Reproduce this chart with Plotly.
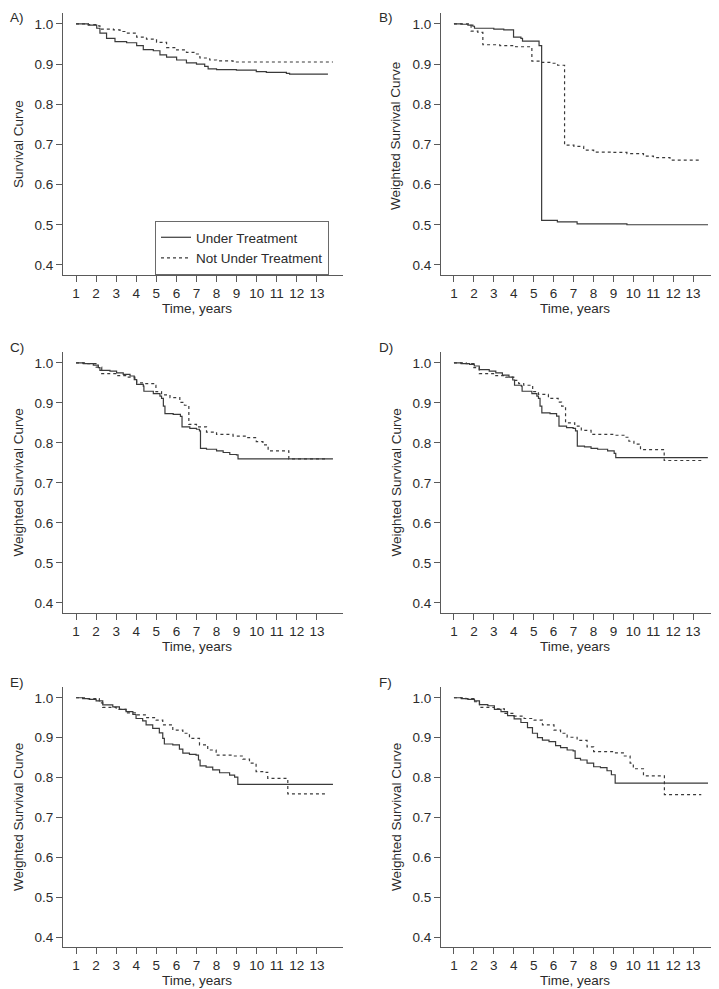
import plotly.graph_objects as go

# ---- data ----
years = list(range(1, 14))
surv_ticks = [0.4, 0.5, 0.6, 0.7, 0.8, 0.9, 1.0]
series_names = ["Under Treatment", "Not Under Treatment"]
panel_labels = ["A)", "B)", "C)", "D)", "E)", "F)"]
y_titles = ["Survival Curve"] + ["Weighted Survival Curve"] * 5

# A) unweighted
a_t_treat = [1.0, 1.61, 2.03, 2.19, 2.52, 2.94, 3.52, 4.02, 4.35, 4.85, 5.18, 5.51, 6.01, 6.50,
             7.00, 7.41, 7.58, 8.00, 8.99, 9.98, 10.48, 11.48, 11.64, 13.55]
a_s_treat = [1.0, 0.997, 0.989, 0.977, 0.964, 0.956, 0.953, 0.946, 0.936, 0.933, 0.923, 0.917, 0.910, 0.903,
             0.900, 0.894, 0.888, 0.886, 0.885, 0.881, 0.879, 0.877, 0.875, 0.875]
a_t_none = [1.0, 1.61, 2.03, 2.19, 2.86, 3.19, 3.52, 4.02, 4.51, 5.01, 5.51, 6.01, 6.50, 7.00,
            7.17, 7.66, 8.00, 8.82, 13.80]
a_s_none = [1.0, 0.998, 0.995, 0.987, 0.985, 0.981, 0.977, 0.967, 0.962, 0.954, 0.941, 0.935, 0.929, 0.925,
            0.915, 0.910, 0.908, 0.905, 0.905]

# B)
b_t_treat = [1.0, 1.37, 1.70, 1.95, 2.03, 3.00, 3.50, 3.99, 4.36, 4.44, 5.27, 5.40, 6.19, 7.18, 9.68, 13.75]
b_s_treat = [1.0, 0.999, 0.997, 0.994, 0.989, 0.987, 0.985, 0.967, 0.964, 0.957, 0.946, 0.511, 0.507, 0.502, 0.500, 0.500]
b_t_none = [1.0, 1.78, 1.86, 2.20, 2.45, 3.30, 4.10, 4.91, 5.35, 5.85, 6.20, 6.55, 7.02, 7.51, 8.01, 8.90,
            9.68, 10.51, 11.01, 11.84, 13.41]
b_s_none = [1.0, 0.996, 0.982, 0.979, 0.948, 0.946, 0.943, 0.907, 0.904, 0.902, 0.897, 0.698, 0.695, 0.686, 0.681, 0.680,
            0.677, 0.671, 0.667, 0.661, 0.661]

# C)
c_t_treat = [1.0, 1.36, 1.86, 2.11, 2.19, 2.69, 3.02, 3.35, 3.69, 3.90, 4.02, 4.35, 4.38, 4.85, 5.18, 5.26,
             5.35, 5.43, 5.84, 6.20, 6.28, 6.67, 7.00, 7.15, 7.20, 7.50, 8.00, 8.33, 8.66, 8.99, 9.07, 13.80]
c_s_treat = [1.0, 0.998, 0.994, 0.988, 0.981, 0.979, 0.975, 0.971, 0.967, 0.958, 0.946, 0.942, 0.929, 0.923, 0.917, 0.911,
             0.892, 0.873, 0.871, 0.866, 0.840, 0.836, 0.834, 0.830, 0.786, 0.784, 0.780, 0.776, 0.771, 0.770, 0.760, 0.760]
c_t_none = [1.0, 1.53, 2.00, 2.28, 3.02, 3.52, 3.93, 4.02, 4.35, 4.93, 4.98, 5.26, 5.68, 6.17, 6.40, 6.62,
            7.00, 7.50, 8.00, 8.82, 9.49, 9.98, 10.31, 10.57, 11.60, 13.50]
c_s_none = [1.0, 0.998, 0.989, 0.973, 0.968, 0.964, 0.958, 0.950, 0.948, 0.944, 0.928, 0.920, 0.913, 0.901, 0.894, 0.846,
            0.840, 0.827, 0.821, 0.817, 0.813, 0.803, 0.795, 0.780, 0.760, 0.760]

# D)
d_t_treat = [1.0, 1.36, 1.78, 2.02, 2.27, 2.77, 3.10, 3.43, 3.76, 3.95, 4.04, 4.38, 4.42, 4.91, 5.16, 5.24,
             5.32, 5.41, 5.82, 6.15, 6.27, 6.65, 6.98, 7.10, 7.19, 7.55, 7.88, 8.21, 8.71, 9.04, 9.12, 13.74]
d_s_treat = [1.0, 0.998, 0.996, 0.992, 0.983, 0.979, 0.975, 0.969, 0.964, 0.957, 0.944, 0.942, 0.929, 0.923, 0.917, 0.911,
             0.892, 0.875, 0.873, 0.867, 0.842, 0.838, 0.836, 0.830, 0.792, 0.790, 0.786, 0.784, 0.780, 0.774, 0.763, 0.763]
d_t_none = [1.0, 1.61, 2.00, 2.27, 3.10, 3.59, 4.00, 4.25, 4.50, 4.95, 5.24, 5.74, 6.23, 6.40, 6.60, 7.06,
            7.39, 7.88, 9.04, 9.53, 9.78, 10.03, 10.36, 11.55, 13.41]
d_s_none = [1.0, 0.998, 0.988, 0.973, 0.968, 0.964, 0.956, 0.948, 0.944, 0.928, 0.921, 0.911, 0.902, 0.892, 0.850, 0.842,
            0.831, 0.821, 0.819, 0.814, 0.804, 0.797, 0.783, 0.756, 0.756]

# E)
e_t_treat = [1.0, 1.33, 1.66, 2.00, 2.33, 2.83, 3.16, 3.49, 3.83, 3.99, 4.32, 4.49, 4.82, 5.15, 5.32, 5.40,
             5.82, 6.15, 6.32, 6.65, 6.98, 7.10, 7.18, 7.48, 7.81, 8.15, 8.65, 8.90, 9.06, 13.80]
e_s_treat = [1.0, 0.998, 0.996, 0.992, 0.982, 0.977, 0.971, 0.965, 0.958, 0.948, 0.942, 0.932, 0.923, 0.912, 0.898, 0.884,
             0.882, 0.871, 0.861, 0.858, 0.856, 0.844, 0.829, 0.826, 0.819, 0.812, 0.806, 0.801, 0.783, 0.783]
e_t_none = [1.0, 1.50, 2.16, 2.33, 3.00, 3.49, 4.00, 4.49, 4.99, 5.32, 5.82, 6.32, 6.65, 7.15, 7.56, 7.98,
            8.81, 9.31, 9.64, 9.97, 10.47, 10.55, 11.55, 13.46]
e_s_none = [1.0, 0.998, 0.987, 0.976, 0.971, 0.962, 0.957, 0.950, 0.944, 0.932, 0.919, 0.911, 0.898, 0.882, 0.869, 0.856,
            0.854, 0.846, 0.836, 0.815, 0.813, 0.798, 0.759, 0.759]

# F)
f_t_treat = [1.0, 1.37, 1.70, 2.03, 2.28, 2.70, 3.03, 3.36, 3.69, 4.02, 4.36, 4.69, 4.94, 5.19, 5.44, 5.77,
             6.10, 6.35, 6.68, 6.98, 7.08, 7.35, 7.68, 8.01, 8.35, 8.68, 8.90, 9.09, 13.75]
f_s_treat = [1.0, 0.998, 0.996, 0.992, 0.983, 0.980, 0.971, 0.965, 0.955, 0.947, 0.938, 0.925, 0.911, 0.900, 0.894, 0.890,
             0.880, 0.875, 0.869, 0.867, 0.848, 0.844, 0.836, 0.827, 0.825, 0.817, 0.807, 0.786, 0.786]
f_t_none = [1.0, 1.60, 2.00, 2.28, 3.03, 3.53, 4.02, 4.52, 5.02, 5.44, 6.02, 6.35, 6.68, 7.18, 7.68, 8.01,
            9.00, 9.50, 9.84, 10.00, 10.51, 11.56, 13.41]
f_s_none = [1.0, 0.998, 0.990, 0.976, 0.972, 0.961, 0.954, 0.948, 0.944, 0.932, 0.919, 0.911, 0.901, 0.893, 0.877, 0.865,
            0.862, 0.854, 0.836, 0.822, 0.804, 0.757, 0.757]

curves = [
    (a_t_treat, a_s_treat, a_t_none, a_s_none),
    (b_t_treat, b_s_treat, b_t_none, b_s_none),
    (c_t_treat, c_s_treat, c_t_none, c_s_none),
    (d_t_treat, d_s_treat, d_t_none, d_s_none),
    (e_t_treat, e_s_treat, e_t_none, e_s_none),
    (f_t_treat, f_s_treat, f_t_none, f_s_none),
]

# ---- layout geometry (page pixels; the page body adds an 8px margin) ----
OFF = 8
W, H = 719 - OFF, 989 - OFF
col_x = [(63, 343), (441, 719)]
row_y = [(13, 275), (352, 613), (687, 947)]
FONT = "Liberation Sans, Arial, Helvetica, sans-serif"
FS = 13.5
TXT = "#2b2b2b"
AX = "#5a5a5a"
LINE = "#3a3a3a"


def px_x(p):
    return (p - OFF) / W


def px_y(p):
    return 1 - (p - OFF) / H


fig = go.Figure()
layout = dict(
    width=W, height=H, margin=dict(l=0, r=0, t=0, b=0),
    paper_bgcolor="white", plot_bgcolor="white",
    font=dict(family=FONT, size=FS, color=TXT),
    showlegend=True,
    legend=dict(x=px_x(155), y=px_y(221), xanchor="left", yanchor="top",
                bordercolor="#6a6a6a", borderwidth=1, bgcolor="white",
                font=dict(size=FS, color=TXT), itemwidth=30, tracegroupgap=0),
)
annotations = []

for i, (tt, st, tn, sn) in enumerate(curves):
    r, c = divmod(i, 2)
    x0, x1 = col_x[c]
    y0, y1 = row_y[r]
    xa = "x" if i == 0 else f"x{i + 1}"
    ya = "y" if i == 0 else f"y{i + 1}"

    fig.add_trace(go.Scatter(
        x=tt, y=st, mode="lines", line_shape="hv", name=series_names[0],
        line=dict(color=LINE, width=1.2), xaxis=xa, yaxis=ya,
        showlegend=(i == 0), hoverinfo="skip"))
    fig.add_trace(go.Scatter(
        x=tn, y=sn, mode="lines", line_shape="hv", name=series_names[1],
        line=dict(color=LINE, width=1.2, dash="3px,3px"), xaxis=xa, yaxis=ya,
        showlegend=(i == 0), hoverinfo="skip"))

    axis_common = dict(showline=True, linecolor=AX, linewidth=1, ticks="outside",
                       ticklen=6, tickwidth=1, tickcolor=AX, showgrid=False,
                       zeroline=False, fixedrange=True,
                       tickfont=dict(size=FS, color=TXT))
    layout["xaxis" if i == 0 else f"xaxis{i + 1}"] = dict(
        axis_common, domain=[px_x(x0), min(px_x(x1), 1.0)], range=[0.35, 14.3],
        tickvals=years, anchor=ya)
    layout["yaxis" if i == 0 else f"yaxis{i + 1}"] = dict(
        axis_common, domain=[px_y(y1), px_y(y0)], range=[0.375, 1.027],
        tickvals=surv_ticks, tickformat=".1f", anchor=xa)

    # x title, centred under the tick span
    annotations.append(dict(text="Time, years", xref="paper", yref="paper",
                            x=px_x(x0 + 133.5), y=px_y(y1 + 33),
                            xanchor="center", yanchor="middle", showarrow=False,
                            font=dict(size=FS, color=TXT)))
    # y title
    yc = (y0 + y1) / 2 - (8 if i == 1 else 0)
    annotations.append(dict(text=y_titles[i], xref="paper", yref="paper",
                            x=px_x(x0 - 45), y=px_y(yc),
                            textangle=-90, xanchor="center", yanchor="middle",
                            showarrow=False, font=dict(size=FS, color=TXT)))
    # panel letter (top row sits against the top edge)
    if r == 0:
        ly, lanchor = 1.0, "top"
    else:
        ly, lanchor = px_y(y0 - 5), "middle"
    annotations.append(dict(text=panel_labels[i], xref="paper", yref="paper",
                            x=max(px_x(0 if c == 0 else 377), 0), y=ly,
                            xanchor="left", yanchor=lanchor, showarrow=False,
                            font=dict(size=FS, color=TXT)))

layout["annotations"] = annotations
fig.update_layout(**layout)
fig.write_html("out.html")
